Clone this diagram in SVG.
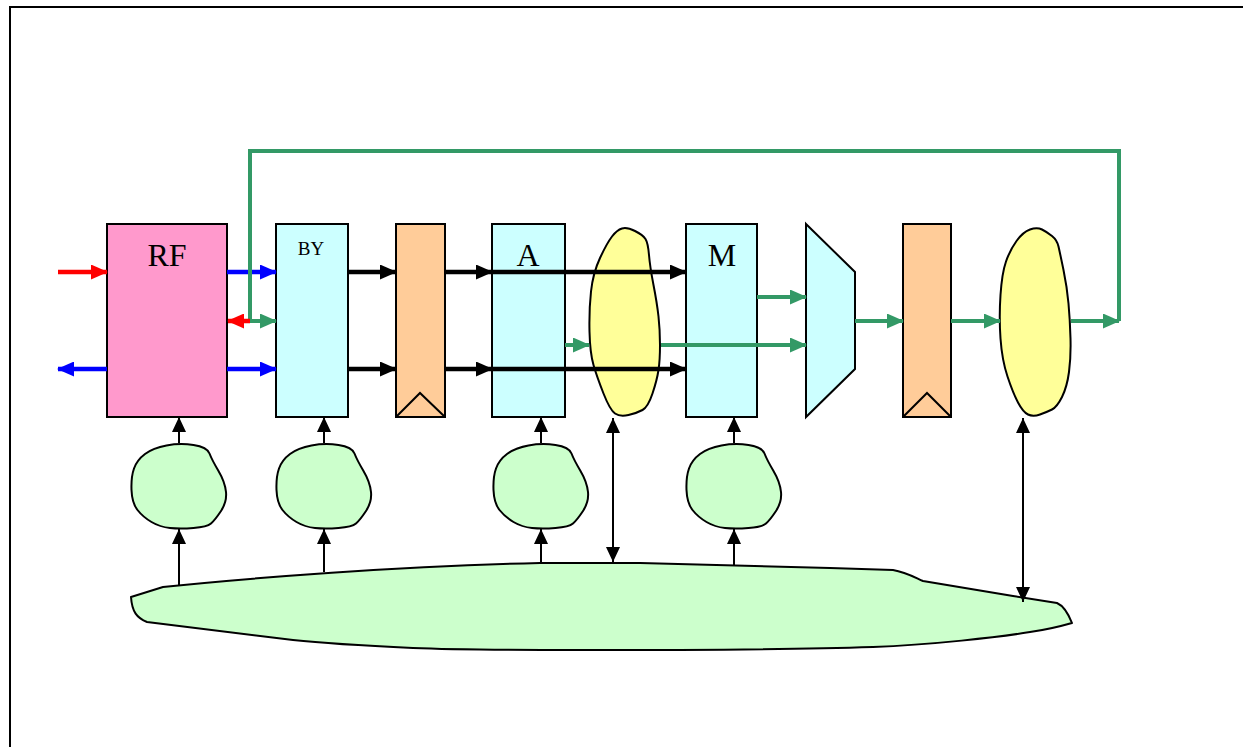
<svg xmlns="http://www.w3.org/2000/svg" width="1243" height="747" viewBox="0 0 1243 747">
<style>
.box{stroke:#000;stroke-width:2}
.blob{stroke:#000;stroke-width:2;stroke-linejoin:round}
.lbl{font-family:"Liberation Serif","Times New Roman",serif;fill:#000;text-anchor:middle}
.blk{stroke:#000;stroke-width:4.5;fill:none}
.grn{stroke:#339966;stroke-width:4;fill:none}
.blu{stroke:#0000FF;stroke-width:4.5;fill:none}
.red{stroke:#FF0000;stroke-width:4.5;fill:none}
.thin{stroke:#000;stroke-width:2;fill:none}
</style>
<defs>
<marker id="ak" markerUnits="userSpaceOnUse" viewBox="0 0 17 15" markerWidth="17" markerHeight="15" refX="16" refY="7.5" orient="auto-start-reverse"><path d="M0,0 L17,7.5 L0,15 z" fill="#000"/></marker>
<marker id="ag" markerUnits="userSpaceOnUse" viewBox="0 0 17 15" markerWidth="17" markerHeight="15" refX="16" refY="7.5" orient="auto-start-reverse"><path d="M0,0 L17,7.5 L0,15 z" fill="#339966"/></marker>
<marker id="ab" markerUnits="userSpaceOnUse" viewBox="0 0 17 15" markerWidth="17" markerHeight="15" refX="16" refY="7.5" orient="auto-start-reverse"><path d="M0,0 L17,7.5 L0,15 z" fill="#0000FF"/></marker>
<marker id="ar" markerUnits="userSpaceOnUse" viewBox="0 0 17 15" markerWidth="17" markerHeight="15" refX="16" refY="7.5" orient="auto-start-reverse"><path d="M0,0 L17,7.5 L0,15 z" fill="#FF0000"/></marker>
<marker id="av" markerUnits="userSpaceOnUse" viewBox="0 0 15 14" markerWidth="15" markerHeight="14" refX="15" refY="7" orient="auto-start-reverse"><path d="M0,0 L15,7 L0,14 z" fill="#000"/></marker>
<path id="cblob" d="M14.5,-41 Q28,-39 30.5,-32.5 Q33,-26 39.5,-15 Q46,-4 47,6 Q48,16 42,25 Q36,34 32,37.5 Q28,41 14.5,42 Q1,43 -9,42 Q-19,41 -27.5,36 Q-36,31 -41.5,24 Q-47,17 -47.5,4 Q-48,-9 -45,-17.5 Q-42,-26 -34,-32 Q-26,-38 -12.5,-40.5 Q1,-43 14.5,-41 Z"/>
</defs>
<rect width="1243" height="747" fill="#fff"/>
<path d="M10,747 L10,7 L1243,7" fill="none" stroke="#000" stroke-width="2"/>

<g id="bus">
<path class="blob" fill="#CCFFCC" d="M131,597 L163,587 C250,578 400,566 540,563 L640,563 L830,568 L893,570 C905,572 912,576 923,581 L1013,596 L1057,603 C1064,606 1068,613 1072,623 C1058,627 1045,630 1030,632 C1000,637 930,645 873,647 C780,650 680,650 580,650 C520,650 460,650 413,648 C370,646 330,644 293,640 L147,622 C137,618 132,612 131,597 Z"/>
</g>

<g id="rf"><rect class="box" x="107" y="224" width="120" height="193" fill="#FF99CC"/><text class="lbl" x="167" y="266" font-size="32">RF</text></g>
<g id="by"><rect class="box" x="276" y="224" width="72" height="193" fill="#CCFFFF"/><text class="lbl" x="311" y="255" font-size="19">BY</text></g>
<g id="reg1"><rect class="box" x="396" y="224" width="49" height="193" fill="#FFCC99"/><path d="M396,417 L420,393 L445,417" fill="none" stroke="#000" stroke-width="2"/></g>
<g id="a"><rect class="box" x="492" y="224" width="73" height="193" fill="#CCFFFF"/><text class="lbl" x="528" y="266" font-size="32">A</text></g>
<g id="blob1"><path class="blob" fill="#FFFF99" d="M635,231 Q643,235 645.5,239 Q648,243 649,255 Q650,267 653.5,285 Q657,303 658.5,316.5 Q660,330 660,345 Q660,360 658.5,370 Q657,380 652.5,393.5 Q648,407 642.5,410 Q637,413 628.5,415 Q620,417 615,413.5 Q610,410 603.5,393.5 Q597,377 593.5,365 Q590,353 589.5,331.5 Q589,310 591,291.5 Q593,273 600,258 Q607,243 612,236.5 Q617,230 622,228.5 Q627,227 635,231 Z"/></g>
<g id="m"><rect class="box" x="686" y="224" width="71" height="193" fill="#CCFFFF"/><text class="lbl" x="722" y="266" font-size="32">M</text></g>
<g id="mux"><path class="box" fill="#CCFFFF" d="M806,224 L855,272 L855,369 L806,417 Z"/></g>
<g id="reg2"><rect class="box" x="903" y="224" width="48" height="193" fill="#FFCC99"/><path d="M903,417 L927,393 L951,417" fill="none" stroke="#000" stroke-width="2"/></g>
<g id="blob2"><path class="blob" fill="#FFFF99" d="M1042,229.5 Q1047,232 1052,236 Q1057,240 1058.5,246.5 Q1060,253 1063.5,270 Q1067,287 1068.5,303.5 Q1070,320 1070.5,338.5 Q1071,357 1069,372 Q1067,387 1062,397 Q1057,407 1052,409.5 Q1047,412 1040,414.5 Q1033,417 1028,414.5 Q1023,412 1018,402.5 Q1013,393 1007.5,376.5 Q1002,360 1000.5,338.5 Q999,317 1000.5,295 Q1002,273 1006,261.5 Q1010,250 1016.5,241 Q1023,232 1030,229.5 Q1037,227 1042,229.5 Z"/></g>

<g id="c1"><use href="#cblob" x="179" y="486" class="blob" fill="#CCFFCC"/></g>
<g id="c2"><use href="#cblob" x="324" y="486" class="blob" fill="#CCFFCC"/></g>
<g id="c3"><use href="#cblob" x="541" y="486" class="blob" fill="#CCFFCC"/></g>
<g id="c4"><use href="#cblob" x="734" y="486" class="blob" fill="#CCFFCC"/></g>

<g id="connectors">
<line class="red" x1="58" y1="272" x2="107" y2="272" marker-end="url(#ar)"/>
<line class="blu" x1="58" y1="369" x2="107" y2="369" marker-start="url(#ab)"/>
<line class="blu" x1="227" y1="272" x2="276" y2="272" marker-end="url(#ab)"/>
<line class="blu" x1="227" y1="369" x2="276" y2="369" marker-end="url(#ab)"/>
<path class="grn" d="M1119,321 L1119,151 L250,151 L250,321" fill="none"/>
<line class="grn" x1="1071" y1="321" x2="1119" y2="321" marker-end="url(#ag)"/>
<line class="red" x1="250" y1="321" x2="228" y2="321" marker-end="url(#ar)"/>
<line class="grn" x1="250" y1="321" x2="276" y2="321" marker-end="url(#ag)"/>
<line class="blk" x1="348" y1="272" x2="396" y2="272" marker-end="url(#ak)"/>
<line class="blk" x1="348" y1="369" x2="396" y2="369" marker-end="url(#ak)"/>
<line class="blk" x1="445" y1="272" x2="492" y2="272" marker-end="url(#ak)"/>
<line class="blk" x1="445" y1="369" x2="492" y2="369" marker-end="url(#ak)"/>
<line class="blk" x1="492" y1="272" x2="686" y2="272" marker-end="url(#ak)"/>
<line class="blk" x1="492" y1="369" x2="686" y2="369" marker-end="url(#ak)"/>
<line class="grn" x1="565" y1="345" x2="589" y2="345" marker-end="url(#ag)"/>
<line class="grn" x1="661" y1="345" x2="806" y2="345" marker-end="url(#ag)"/>
<line class="grn" x1="757" y1="297" x2="806" y2="297" marker-end="url(#ag)"/>
<line class="grn" x1="855" y1="321" x2="903" y2="321" marker-end="url(#ag)"/>
<line class="grn" x1="951" y1="321" x2="1000" y2="321" marker-end="url(#ag)"/>
<line class="thin" x1="179" y1="443" x2="179" y2="417" marker-end="url(#av)"/>
<line class="thin" x1="179" y1="585" x2="179" y2="529" marker-end="url(#av)"/>
<line class="thin" x1="324" y1="443" x2="324" y2="417" marker-end="url(#av)"/>
<line class="thin" x1="324" y1="572" x2="324" y2="529" marker-end="url(#av)"/>
<line class="thin" x1="541" y1="443" x2="541" y2="417" marker-end="url(#av)"/>
<line class="thin" x1="541" y1="563" x2="541" y2="529" marker-end="url(#av)"/>
<line class="thin" x1="734" y1="443" x2="734" y2="417" marker-end="url(#av)"/>
<line class="thin" x1="734" y1="565" x2="734" y2="529" marker-end="url(#av)"/>
<line class="thin" x1="613" y1="418" x2="613" y2="562" marker-start="url(#av)" marker-end="url(#av)"/>
<line class="thin" x1="1023" y1="418" x2="1023" y2="602" marker-start="url(#av)" marker-end="url(#av)"/>
</g>
</svg>
